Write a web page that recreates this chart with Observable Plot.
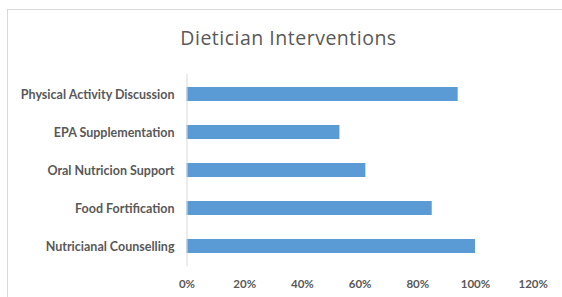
<!DOCTYPE html>
<html>
<head>
<meta charset="utf-8">
<script src="https://cdn.jsdelivr.net/npm/d3@7"></script>
<script src="https://cdn.jsdelivr.net/npm/@observablehq/plot@0.6"></script>
<style>
  html, body { margin: 0; padding: 0; background: #fff; width: 562px; height: 297px; overflow: hidden; }
  #frame { position: absolute; left: 7px; top: 9px; width: 555px; height: 288px;
           border-top: 1px solid #d9d9d9; border-left: 1px solid #d9d9d9; box-sizing: border-box; }
  #title { position: absolute; left: 0; top: 24px; width: 577px; text-align: center;
           font-family: "Open Sans", sans-serif; font-size: 19.5px; letter-spacing: 0.5px; color: #595959; }
  #chart { position: absolute; left: 0; top: 70px; }
</style>
</head>
<body>
<div id="frame"></div>
<div id="title">Dietician Interventions</div>
<div id="chart"></div>
<script>
const categories = [
  "Physical Activity Discussion",
  "EPA Supplementation",
  "Oral Nutricion Support",
  "Food Fortification",
  "Nutricianal Counselling"
];
const values = [0.94, 0.53, 0.62, 0.85, 1.00];
const xTicks = [0, 0.2, 0.4, 0.6, 0.8, 1.0, 1.2];

const data = categories.map((c, i) => ({category: c, value: values[i]}));

const chart = Plot.plot({
  width: 562,
  height: 227,
  marginLeft: 186.5,
  marginRight: 29.3,
  marginTop: 3.75,
  marginBottom: 30.75,
  style: {fontFamily: "Lato, sans-serif", fontSize: "11.5px", color: "#595959", background: "transparent"},
  x: {domain: [0, 1.2], ticks: xTicks, tickFormat: d3.format(".0%"), label: null},
  y: {domain: categories, paddingInner: 0.636, paddingOuter: 0.318, label: null},
  marks: [
    Plot.barX(data, {x: "value", y: "category", fill: "#5b9bd5"}),
    Plot.ruleX([0], {stroke: "#d9d9d9", strokeWidth: 1}),
    Plot.axisX({ticks: xTicks, tickFormat: d3.format(".0%"), tickSize: 0, tickPadding: 13, fontWeight: "bold", label: null}),
    Plot.axisY({tickSize: 0, tickPadding: 12.5, fontWeight: "bold", fontSize: 12.5, label: null})
  ]
});
document.getElementById("chart").appendChild(chart);
</script>
</body>
</html>
